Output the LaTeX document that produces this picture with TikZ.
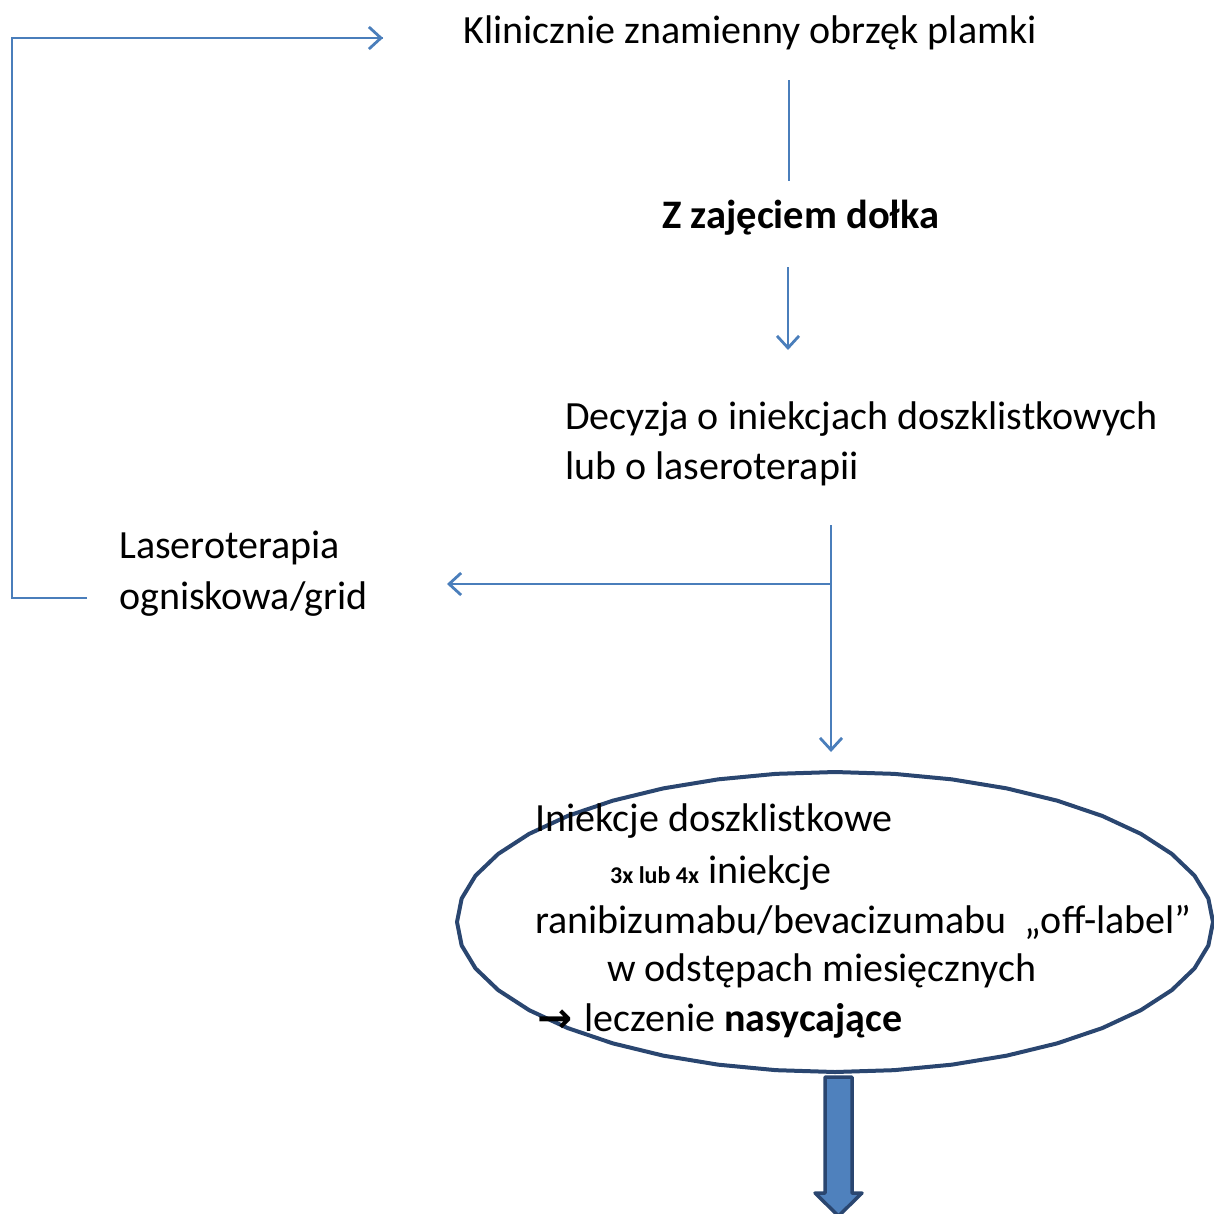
\documentclass[tikz,border=0pt]{standalone}
\usepackage{fontspec}
\setmainfont{Carlito}
\newfontfamily\arrfont{DejaVu Sans}
\usetikzlibrary{arrows.meta,shapes.geometric}
\definecolor{ln}{HTML}{4A7EBB}
\definecolor{dk}{HTML}{2A4670}
\definecolor{fl}{HTML}{4F81BD}
\tikzset{
  txt/.style={anchor=base west,inner sep=0pt,font=\fontsize{40}{51}\selectfont,align=left},
  conn/.style={draw=ln,line width=2.4pt,-{Straight Barb[length=12pt,width=22pt,line width=2.8pt]}},
  plain/.style={draw=ln,line width=2.2pt},
  ellbox/.style={ellipse,draw=none,minimum width=756pt,minimum height=300pt,inner sep=0pt},
}
\begin{document}
\begin{tikzpicture}[x=1pt,y=-1pt]
\useasboundingbox (0,0) rectangle (1214,1213);
% nodes
\node[txt] (top) at (463,43) {Klinicznie znamienny obrzęk plamki};
\node[txt,font=\fontsize{40.5}{51}\selectfont\bfseries] (fovea) at (662,228) {Z zajęciem dołka};
\node[txt] (dec1) at (565,429) {Decyzja o iniekcjach doszklistkowych};
\node[txt] (dec2) at (565,479) {lub o laseroterapii};
\node[txt] (las1) at (119,558) {Laseroterapia};
\node[txt] (las2) at (119,609) {ogniskowa/grid};
\node[ellbox] (ell) at (835,922) {};
\draw[draw=dk,line width=4pt,line join=round]
  plot[domain=0:360,samples=41] ({835+378*cos(\x)},{922+150*sin(\x)}) -- cycle;
\node[txt] (e1) at (535,831) {Iniekcje doszklistkowe};
\node[txt] (e2) at (610,883) {{\fontsize{24}{28}\selectfont\bfseries 3x lub 4x} iniekcje};
\node[txt] (e3) at (535,933) {ranibizumabu/bevacizumabu\ \ „off-label”};
\node[txt] (e4) at (607,981) {w odstępach miesięcznych};
\node[txt] (e5) at (537,1031) {\raisebox{-1pt}{\arrfont\fontsize{42}{40}\selectfont\bfseries →}\hspace{12pt}leczenie \textbf{nasycające}};
% coordinates
\coordinate (a1) at (789,80);
\coordinate (a2) at (789,181);
\coordinate (b1) at (788,267);
\coordinate (b2) at (788,350);
\coordinate (c1) at (831,525);
\coordinate (c2) at (831,752);
\coordinate (cm) at (831,584);
\coordinate (c3) at (447,584);
\coordinate (f0) at (87,598);
\coordinate (f1) at (12,598);
\coordinate (f2) at (12,38);
\coordinate (f3) at (383,38);
% connectors
\draw[plain] (a1) -- (a2);
\draw[conn] (b1) -- (b2);
\draw[conn] (c1) -- (c2);
\draw[conn] (cm) -- (c3);
\draw[draw=ln,line width=1.8pt] (f0) -- (f1) -- (f2) -- (f3);
\draw[conn] (f2) -- (f3);
% block arrow
\draw[draw=dk,fill=fl,line width=3.5pt,line join=round]
  (825,1077) -- (852,1077) -- (852,1193) -- (862,1193) -- (838.5,1216) -- (815,1193) -- (825,1193) -- cycle;
\end{tikzpicture}
\end{document}
